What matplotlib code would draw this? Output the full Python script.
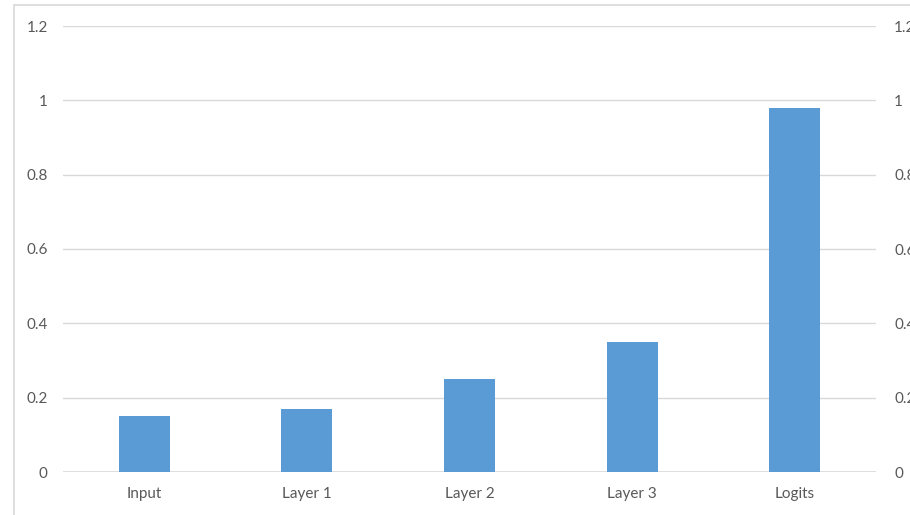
import matplotlib.pyplot as plt
from matplotlib.patches import Rectangle
from matplotlib.ticker import FuncFormatter
import numpy as np

categories = ['Input', 'Layer 1', 'Layer 2', 'Layer 3', 'Logits']
values = [0.15, 0.17, 0.25, 0.35, 0.98]
yticks = [0, 0.2, 0.4, 0.6, 0.8, 1.0, 1.2]

plt.rcParams['font.family'] = ['Lato', 'DejaVu Sans']

W, H = 910, 515
fig = plt.figure(figsize=(W / 100, H / 100), dpi=100)

# chart area border (runs off the right and bottom of the image)
fig.patches.append(Rectangle((14 / W, -0.1), 1.2, 1 - 5 / H + 0.1,
                             transform=fig.transFigure, fill=False,
                             edgecolor='#d9d9d9', linewidth=1.2))

ax = fig.add_axes([63 / W, 1 - 472 / H, (876 - 63) / W, (472 - 26) / H])
x = np.arange(len(categories))
ax.bar(x, values, width=0.314, color='#5b9bd5', zorder=3)
ax.set_xlim(-0.5, len(categories) - 0.5)
ax.set_ylim(0, 1.2)
ax.set_yticks(yticks)
ax.yaxis.set_major_formatter(FuncFormatter(lambda v, p: '%g' % v))
ax.set_xticks(x)
ax.set_xticklabels(categories)
ax.grid(axis='y', color='#d9d9d9', linewidth=1, zorder=0)
for s in ax.spines.values():
    s.set_visible(False)
ax.axhline(0, color='#d9d9d9', linewidth=1.2, zorder=2)
ax.tick_params(axis='both', length=0, colors='#595959', labelsize=11)
ax.tick_params(axis='y', pad=11)
ax.tick_params(axis='x', pad=11)

ax2 = ax.twinx()
ax2.set_ylim(0, 1.2)
ax2.set_yticks(yticks)
ax2.yaxis.set_major_formatter(FuncFormatter(lambda v, p: '%g' % v))
for s in ax2.spines.values():
    s.set_visible(False)
ax2.tick_params(axis='y', length=0, colors='#595959', labelsize=11, pad=13)

fig.savefig('out.png', dpi=100)
